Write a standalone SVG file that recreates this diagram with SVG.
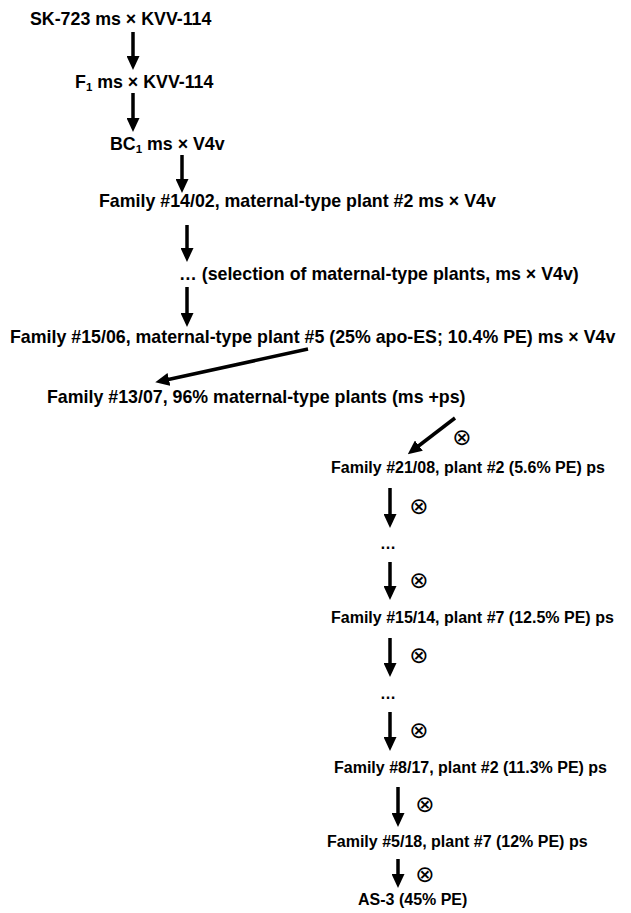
<svg xmlns="http://www.w3.org/2000/svg" width="631" height="913" viewBox="0 0 631 913">
<style>
.t{font-family:"Liberation Sans",Arial,sans-serif;font-weight:bold;font-size:17.8px;fill:#000}
.s{font-size:16px}
.x{font-family:"DejaVu Sans",sans-serif;font-size:23px;fill:#000;text-anchor:middle}
.a{stroke:#000;stroke-width:3.5;fill:none;marker-end:url(#h)}
</style>
<defs>
<marker id="h" viewBox="0 0 14 13" refX="3" refY="6.5" markerWidth="14" markerHeight="13" markerUnits="userSpaceOnUse" orient="auto">
<path d="M0,0 L14,6.5 L0,13 z" fill="#000"/>
</marker>
</defs>
<rect width="631" height="913" fill="#fff"/>
<g id="n1"><text class="t" x="30" y="25">SK-723 ms × KVV-114</text></g>
<g id="n2"><text class="t" x="75" y="88">F<tspan font-size="11.5" dy="3">1</tspan><tspan dy="-3"> ms × KVV-114</tspan></text></g>
<g id="n3"><text class="t" x="110" y="150">BC<tspan font-size="11.5" dy="3">1</tspan><tspan dy="-3"> ms × V4v</tspan></text></g>
<g id="n4"><text class="t" x="99" y="207">Family #14/02, maternal-type plant #2 ms × V4v</text></g>
<g id="n5"><text class="t" x="179" y="280">… (selection of maternal-type plants, ms × V4v)</text></g>
<g id="n6"><text class="t" x="10" y="343">Family #15/06, maternal-type plant #5 (25% apo-ES; 10.4% PE) ms × V4v</text></g>
<g id="n7"><text class="t" x="47" y="403">Family #13/07, 96% maternal-type plants (ms +ps)</text></g>
<g id="n8"><text class="t s" x="331" y="473">Family #21/08, plant #2 (5.6% PE) ps</text></g>
<g id="n9"><text class="t s" x="380" y="549">…</text></g>
<g id="n10"><text class="t s" x="331" y="623">Family #15/14, plant #7 (12.5% PE) ps</text></g>
<g id="n11"><text class="t s" x="380" y="699">…</text></g>
<g id="n12"><text class="t s" x="334" y="773">Family #8/17, plant #2 (11.3% PE) ps</text></g>
<g id="n13"><text class="t s" x="327" y="847">Family #5/18, plant #7 (12% PE) ps</text></g>
<g id="n14"><text class="t s" x="358" y="905">AS-3 (45% PE)</text></g>
<g id="connectors">
<line class="a" x1="133" y1="32" x2="133" y2="59"/>
<line class="a" x1="133" y1="93" x2="133" y2="121"/>
<line class="a" x1="182" y1="155" x2="182" y2="182"/>
<line class="a" x1="187" y1="225" x2="187" y2="251"/>
<line class="a" x1="187" y1="287" x2="187" y2="316"/>
<line class="a" x1="308" y1="349" x2="166" y2="380"/>
<line class="a" x1="455" y1="418" x2="416.5" y2="447.5"/>
<line class="a" x1="390" y1="488" x2="390" y2="517"/>
<line class="a" x1="390" y1="562" x2="390" y2="589"/>
<line class="a" x1="390" y1="638" x2="390" y2="666"/>
<line class="a" x1="390" y1="712" x2="390" y2="740"/>
<line class="a" x1="398" y1="787" x2="398" y2="816"/>
<line class="a" x1="398" y1="859" x2="398" y2="877"/>
<text class="x" x="462" y="445">⊗</text>
<text class="x" x="419" y="514">⊗</text>
<text class="x" x="419" y="588">⊗</text>
<text class="x" x="419" y="663">⊗</text>
<text class="x" x="419" y="738">⊗</text>
<text class="x" x="425" y="812">⊗</text>
<text class="x" x="425" y="882">⊗</text>
</g>
</svg>
